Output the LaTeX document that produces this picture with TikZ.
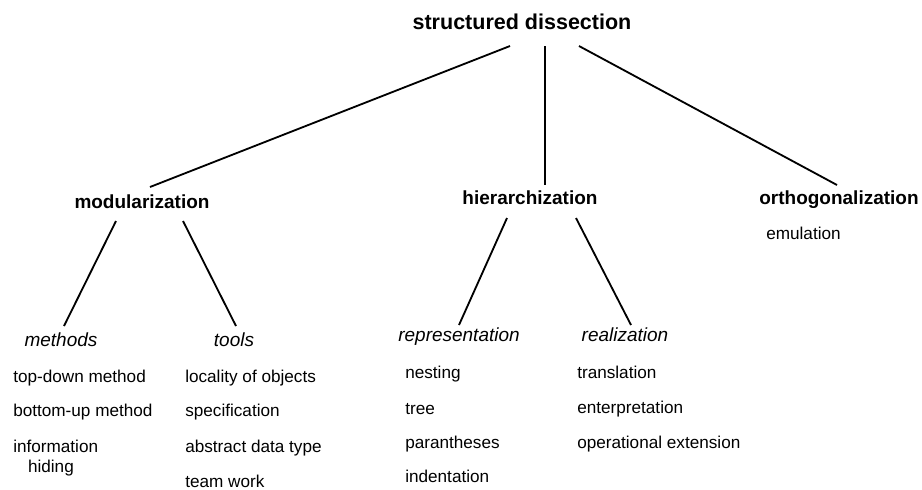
\documentclass[tikz,border=0pt]{standalone}
\usepackage{fontspec}
\setmainfont{Liberation Sans}
\usetikzlibrary{calc}
\begin{document}
\begin{tikzpicture}[x=0.025cm,y=-0.025cm,
  topic/.style={anchor=base,inner sep=0pt,font=\fontsize{15.3}{18}\selectfont\bfseries},
  area/.style={anchor=base,inner sep=0pt,font=\fontsize{13.5}{16}\selectfont\bfseries},
  kind/.style={anchor=base,inner sep=0pt,font=\fontsize{13.5}{16}\selectfont\itshape},
  entry/.style={anchor=base west,inner sep=0pt,font=\fontsize{12.2}{14.2}\selectfont},
  branch/.style={line width=1.3pt}]
\useasboundingbox (0,0) rectangle (922,489);

\node[topic] (root) at (522,29) {structured dissection};

\node[area] (modul) at (142,208) {modularization};
\node[area] (hier) at (530,204) {hierarchization};
\node[area] (ortho) at (839,204) {orthogonalization};

\node[kind] (methods) at (61,346) {methods};
\node[kind] (tools) at (234,346) {tools};
\node[kind] (repr) at (459,341) {representation};
\node[kind] (real) at (625,341) {realization};

% methods
\node[entry] (topdown) at (13,382) {top-down method};
\node[entry] (bottomup) at (13,416) {bottom-up method};
\node[entry,align=left] (info) at (13,472) {information\\\hspace*{10.5pt}hiding};
% tools
\node[entry] (locality) at (185,382) {locality of objects};
\node[entry] (spec) at (185,416) {specification};
\node[entry] (adt) at (185,452) {abstract data type};
\node[entry] (team) at (185,487) {team work};
% representation
\node[entry] (nesting) at (405,378) {nesting};
\node[entry] (tree) at (405,414) {tree};
\node[entry] (paren) at (405,448) {parantheses};
\node[entry] (indent) at (405,482) {indentation};
% realization
\node[entry] (transl) at (577,378) {translation};
\node[entry] (enterp) at (577,413) {enterpretation};
\node[entry] (opext) at (577,448) {operational extension};
% orthogonalization
\node[entry] (emul) at (766,239) {emulation};

\draw[branch] ($(root.base)+(-12,17)$) -- ($(modul.base)+(8,-21)$);
\draw[branch] ($(root.base)+(23,17)$) -- ($(hier.base)+(15,-19)$);
\draw[branch] ($(root.base)+(57,17)$) -- ($(ortho.base)+(-2,-19)$);
\draw[branch] ($(modul.base)+(-26,13)$) -- ($(methods.base)+(3,-20)$);
\draw[branch] ($(modul.base)+(41,13)$) -- ($(tools.base)+(2,-20)$);
\draw[branch] ($(hier.base)+(-23,14)$) -- ($(repr.base)+(0,-16)$);
\draw[branch] ($(hier.base)+(46,14)$) -- ($(real.base)+(6,-16)$);

\end{tikzpicture}
\end{document}
